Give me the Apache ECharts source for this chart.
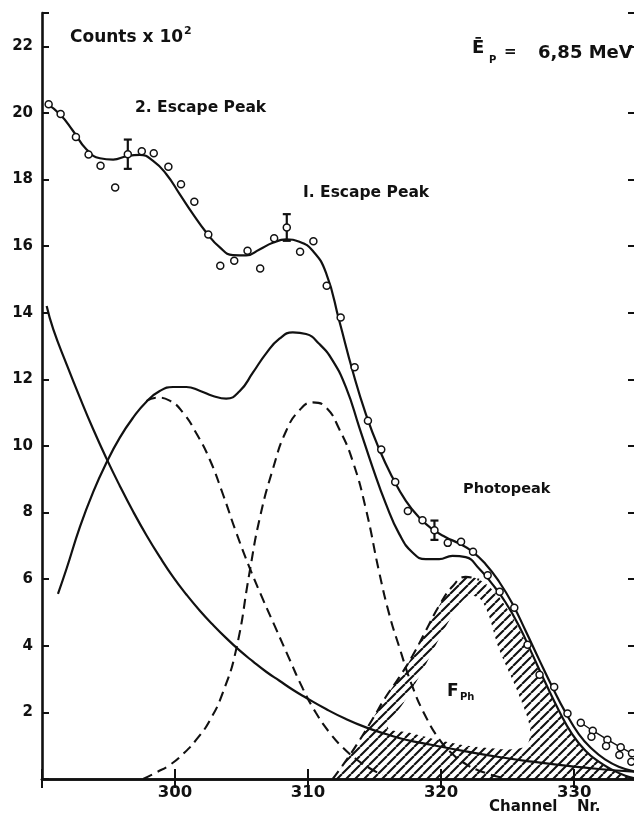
<!DOCTYPE html>
<html>
<head>
<meta charset="utf-8">
<script src="https://cdn.jsdelivr.net/npm/echarts@6/dist/echarts.min.js"></script>
<style>
  html, body { margin: 0; padding: 0; background: #fff; overflow: hidden; }
  #chart { width: 634px; height: 816px; }
</style>
</head>
<body>
<div id="chart"></div>
<script>
// Measured counts (x 10^2) per channel
const measured = [
  [290.5, 20.26], [291.4, 19.97], [292.55, 19.28], [293.5, 18.75], [294.4, 18.41],
  [295.5, 17.76], [296.45, 18.76], [297.5, 18.85], [298.4, 18.79], [299.5, 18.38],
  [300.45, 17.86], [301.45, 17.33], [302.5, 16.35], [303.4, 15.41], [304.45, 15.56],
  [305.45, 15.86], [306.4, 15.33], [307.45, 16.24], [308.4, 16.56], [309.4, 15.83],
  [310.4, 16.15], [311.4, 14.81], [312.45, 13.86], [313.5, 12.36], [314.5, 10.76],
  [315.5, 9.89], [316.55, 8.92], [317.5, 8.05], [318.6, 7.77], [319.5, 7.47],
  [320.5, 7.09], [321.5, 7.12], [322.4, 6.82], [323.5, 6.12], [324.4, 5.62],
  [325.5, 5.14], [326.5, 4.03], [327.4, 3.13], [328.5, 2.76], [329.5, 1.97]
];
// High-channel tail: pairs of readings per channel
const tailUpper = [[330.5, 1.69], [331.4, 1.45], [332.5, 1.18], [333.5, 0.95], [334.35, 0.77]];
const tailLower = [[331.3, 1.27], [332.4, 0.99], [333.4, 0.72], [334.3, 0.52]];
// Statistical error bars: channel, value, half-width
const errorBars = [[296.45, 18.76, 0.44], [308.4, 16.56, 0.40], [319.5, 7.47, 0.29]];

// Total fit through the measured spectrum
const fitCurve = [
  [290.35, 20.28], [291.35, 19.96], [292.35, 19.45], [293.35, 18.9], [294.35, 18.64],
  [295.35, 18.6], [296.35, 18.7], [297.35, 18.74], [298.35, 18.56],
  [299.35, 18.16], [300.35, 17.56], [301.35, 16.96], [302.35, 16.41], [303.35, 15.97],
  [304.35, 15.73], [305.35, 15.72], [306.35, 15.9], [307.35, 16.1], [308.35, 16.2],
  [309.35, 16.13], [310.35, 15.86], [311.35, 15.2], [312.35, 13.75], [313.35, 12.25],
  [314.35, 10.95], [315.35, 9.9], [316.35, 9.05], [317.35, 8.35],
  [318.35, 7.85], [319.35, 7.5], [320.35, 7.26], [321.35, 7.07], [322.35, 6.83],
  [323.35, 6.45], [324.35, 5.93], [325.35, 5.27], [326.35, 4.45], [327.35, 3.6],
  [328.35, 2.77], [329.35, 2.0], [330.35, 1.35], [331.35, 0.9], [332.35, 0.58],
  [333.35, 0.37], [334.6, 0.22]
];
// Sum of the three peak components
const peakSum = [
  [291.2, 5.56], [291.85, 6.32], [292.85, 7.57], [293.85, 8.62], [294.85, 9.5],
  [295.85, 10.25], [296.85, 10.85], [297.85, 11.33], [298.85, 11.65], [299.85, 11.77],
  [300.85, 11.77], [301.85, 11.66], [302.85, 11.5], [303.85, 11.42], [304.85, 11.64],
  [305.85, 12.2], [306.85, 12.78], [307.85, 13.22], [308.85, 13.41], [309.85, 13.36],
  [310.85, 13.06], [311.85, 12.56], [312.85, 11.76], [313.85, 10.56], [314.85, 9.36],
  [315.85, 8.26], [316.85, 7.36], [317.85, 6.8], [318.85, 6.6], [319.85, 6.6],
  [320.85, 6.7], [321.85, 6.66], [322.85, 6.32], [323.85, 5.85], [324.85, 5.3],
  [325.85, 4.6], [326.85, 3.75], [327.85, 2.88], [328.85, 2.06], [329.85, 1.35],
  [330.85, 0.85], [331.85, 0.52], [332.85, 0.28], [333.85, 0.1], [334.6, 0.02]
];
// Continuum under the peaks
const background = [
  [290.35, 14.2], [290.85, 13.5], [291.85, 12.45], [292.85, 11.45], [293.85, 10.5],
  [294.85, 9.62], [295.85, 8.8], [296.85, 8.03], [297.85, 7.32], [298.85, 6.67],
  [299.85, 6.07], [300.85, 5.54], [301.85, 5.06], [302.85, 4.63], [303.85, 4.23],
  [304.85, 3.86], [305.85, 3.53], [306.85, 3.22], [307.85, 2.95], [308.85, 2.68],
  [309.85, 2.44], [311.35, 2.1], [312.85, 1.8], [314.35, 1.55], [315.85, 1.35],
  [317.35, 1.18], [319.35, 1.02], [321.85, 0.83], [324.35, 0.66], [326.85, 0.52],
  [329.35, 0.4], [331.85, 0.3], [334.6, 0.22]
];
// Second escape peak component
const escape2 = [
  [297.85, 11.35], [298.6, 11.45], [299.6, 11.36], [300.6, 11.0], [301.6, 10.38],
  [302.6, 9.6], [303.6, 8.55], [304.6, 7.4], [305.6, 6.35], [306.6, 5.4],
  [307.6, 4.5], [308.6, 3.6], [309.6, 2.72], [310.6, 1.98], [311.6, 1.4],
  [312.6, 0.95], [313.6, 0.6], [314.6, 0.33], [315.6, 0.12]
];
// First escape peak component
const escape1 = [
  [297.6, 0.0], [298.6, 0.2], [299.6, 0.42], [300.6, 0.75], [301.6, 1.18],
  [302.6, 1.75], [303.6, 2.6], [304.6, 3.9], [305.6, 6.2], [306.35, 7.8],
  [307.35, 9.3], [308.35, 10.45], [309.35, 11.07], [310.35, 11.31], [311.35, 11.16],
  [312.35, 10.5], [313.35, 9.55], [314.35, 8.1], [315.35, 6.2], [316.1, 4.95],
  [316.85, 3.97], [317.85, 2.77], [318.85, 1.87], [319.85, 1.2], [320.85, 0.75],
  [321.85, 0.45], [322.85, 0.25], [324.5, 0.05]
];
// Photopeak component
const photopeak = [
  [311.85, 0.0], [312.85, 0.55], [313.85, 1.15], [314.85, 1.8], [315.85, 2.47],
  [316.85, 3.05], [317.85, 3.7], [318.85, 4.45], [319.85, 5.2], [320.85, 5.78],
  [321.85, 6.07], [322.85, 5.98], [323.85, 5.68], [324.85, 5.18], [325.85, 4.5],
  [326.85, 3.68], [327.85, 2.83], [328.85, 2.02], [329.85, 1.32], [330.85, 0.82],
  [331.85, 0.5], [332.85, 0.26], [333.85, 0.09], [334.6, 0.0]
];
// Unshaded interior of the photopeak area
const photopeakBlank = [
  [316.0, 1.55], [317.2, 2.3], [318.6, 3.25], [319.9, 4.25], [321.0, 5.0],
  [321.9, 5.45], [322.8, 5.45], [323.5, 5.0], [324.35, 3.9], [325.8, 2.57],
  [326.7, 1.45], [326.2, 0.95], [323.0, 0.95], [320.0, 1.15], [317.5, 1.4]
];

const xTickLabels = [300, 310, 320, 330];
const yTickLabels = [2, 4, 6, 8, 10, 12, 14, 16, 18, 20, 22];

const FONT = 'DejaVu Sans';
const INK = '#111';
const DASH = [10, 6];

function hatchPattern() {
  const s = 9;
  const c = document.createElement('canvas');
  c.width = s; c.height = s;
  const g = c.getContext('2d');
  g.strokeStyle = INK;
  g.lineWidth = 2.1;
  g.beginPath();
  g.moveTo(-s, s); g.lineTo(0, 0);
  g.moveTo(0, s); g.lineTo(s, 0);
  g.moveTo(s, s); g.lineTo(2 * s, 0);
  g.stroke();
  return c;
}

function curve(data, extra) {
  return Object.assign({
    type: 'line', data: data, smooth: 0.5, symbol: 'none', silent: true,
    lineStyle: { color: INK, width: 2.2 }, z: 4
  }, extra || {});
}

const chart = echarts.init(document.getElementById('chart'), null, { renderer: 'canvas' });

const axisCommon = {
  type: 'value',
  axisLine: { show: true, lineStyle: { color: INK, width: 2.6 } },
  axisTick: { show: true, inside: true, length: 8, lineStyle: { color: INK, width: 2 } },
  splitLine: { show: false }
};

function text(str, left, top, size, extra) {
  return Object.assign({
    type: 'text', left: left, top: top, silent: true, z: 10,
    style: { text: str, font: 'bold ' + size + 'px "' + FONT + '"', fill: INK }
  }, extra || {});
}

chart.setOption({
  animation: false,
  backgroundColor: '#fff',
  grid: { left: 42, top: 13, right: -2, bottom: 37, containLabel: false, outerBoundsMode: 'none' },
  xAxis: [
    Object.assign({}, axisCommon, {
      position: 'bottom', min: 290, max: 334.65, interval: 10,
      axisTick: { show: true, inside: true, length: 10, lineStyle: { color: INK, width: 2 } },
      axisLabel: {
        color: INK, fontFamily: FONT, fontWeight: 'bold', fontSize: 16.5, margin: 5,
        showMaxLabel: false,
        formatter: v => (xTickLabels.indexOf(v) >= 0 ? String(v) : '')
      }
    }),
    Object.assign({}, axisCommon, {
      position: 'top', min: 290, max: 334.65, interval: 10,
      axisTick: { show: true, inside: true, length: 9, lineStyle: { color: INK, width: 2 } },
      axisLabel: { show: false }
    })
  ],
  yAxis: [
    Object.assign({}, axisCommon, {
      position: 'left', min: 0, max: 23, interval: 2,
      axisTick: { show: true, inside: true, length: 7, lineStyle: { color: INK, width: 2 } },
      axisLabel: {
        color: INK, fontFamily: FONT, fontWeight: 'bold', fontSize: 15, margin: 9,
        formatter: v => (yTickLabels.indexOf(v) >= 0 ? String(v) : '')
      }
    }),
    Object.assign({}, axisCommon, {
      position: 'right', min: 0, max: 23, interval: 2,
      axisTick: { show: true, inside: true, length: 8, lineStyle: { color: INK, width: 2 } },
      axisLabel: { show: false }
    })
  ],
  series: [
    // hatched photopeak area
    curve(photopeak, {
      lineStyle: { width: 0, opacity: 0 }, z: 1,
      areaStyle: { color: { image: hatchPattern(), repeat: 'repeat' }, opacity: 1 }
    }),
    // blank interior of the photopeak area
    {
      type: 'custom', silent: true, z: 2, clip: true,
      data: [photopeakBlank[0]],
      renderItem: function (params, api) {
        const pts = photopeakBlank.map(p => api.coord(p));
        return { type: 'polygon', shape: { points: pts, smooth: 0.35 }, style: { fill: '#fff' } };
      }
    },
    curve(background),
    curve(peakSum),
    curve(fitCurve),
    curve(escape2, { lineStyle: { color: INK, width: 2.1, type: DASH } }),
    curve(escape1, { lineStyle: { color: INK, width: 2.1, type: DASH } }),
    curve(photopeak.filter(p => p[0] <= 323.4), { lineStyle: { color: INK, width: 2.1, type: DASH } }),
    // connecting strokes of the tail readings
    curve(tailUpper, { smooth: false, lineStyle: { color: INK, width: 1.4 } }),
    // error bars
    {
      type: 'custom', silent: true, z: 6,
      data: errorBars,
      encode: { x: 0, y: 1 },
      renderItem: function (params, api) {
        const x = api.value(0), y = api.value(1), e = api.value(2);
        const top = api.coord([x, y + e]);
        const bot = api.coord([x, y - e]);
        const w = 4;
        const st = { stroke: INK, lineWidth: 2.2 };
        return {
          type: 'group', children: [
            { type: 'line', shape: { x1: top[0], y1: top[1], x2: bot[0], y2: bot[1] }, style: st },
            { type: 'line', shape: { x1: top[0] - w, y1: top[1], x2: top[0] + w, y2: top[1] }, style: st },
            { type: 'line', shape: { x1: bot[0] - w, y1: bot[1], x2: bot[0] + w, y2: bot[1] }, style: st }
          ]
        };
      }
    },
    {
      type: 'scatter', data: measured.concat(tailUpper, tailLower), symbol: 'circle', symbolSize: 7,
      silent: true, z: 8,
      itemStyle: { color: '#fff', borderColor: INK, borderWidth: 1.5, opacity: 1 }
    }
  ],
  graphic: [
    text('Counts x 10', 70, 29, 17),
    text('2', 184, 26, 11),
    text('2. Escape Peak', 135, 100, 15.5),
    text('I. Escape Peak', 303, 185, 15.5),
    text('\u0112', 472, 39, 18),
    text('P', 489, 55, 10),
    text('=', 504, 45, 15),
    text('6,85 MeV', 538, 44, 18),
    text('Photopeak', 463, 482, 14.5),
    text('F', 447, 683, 17),
    text('Ph', 460, 692, 10),
    text('Channel', 489, 800, 15),
    text('Nr.', 577, 800, 15)
  ]
});
</script>
</body>
</html>
